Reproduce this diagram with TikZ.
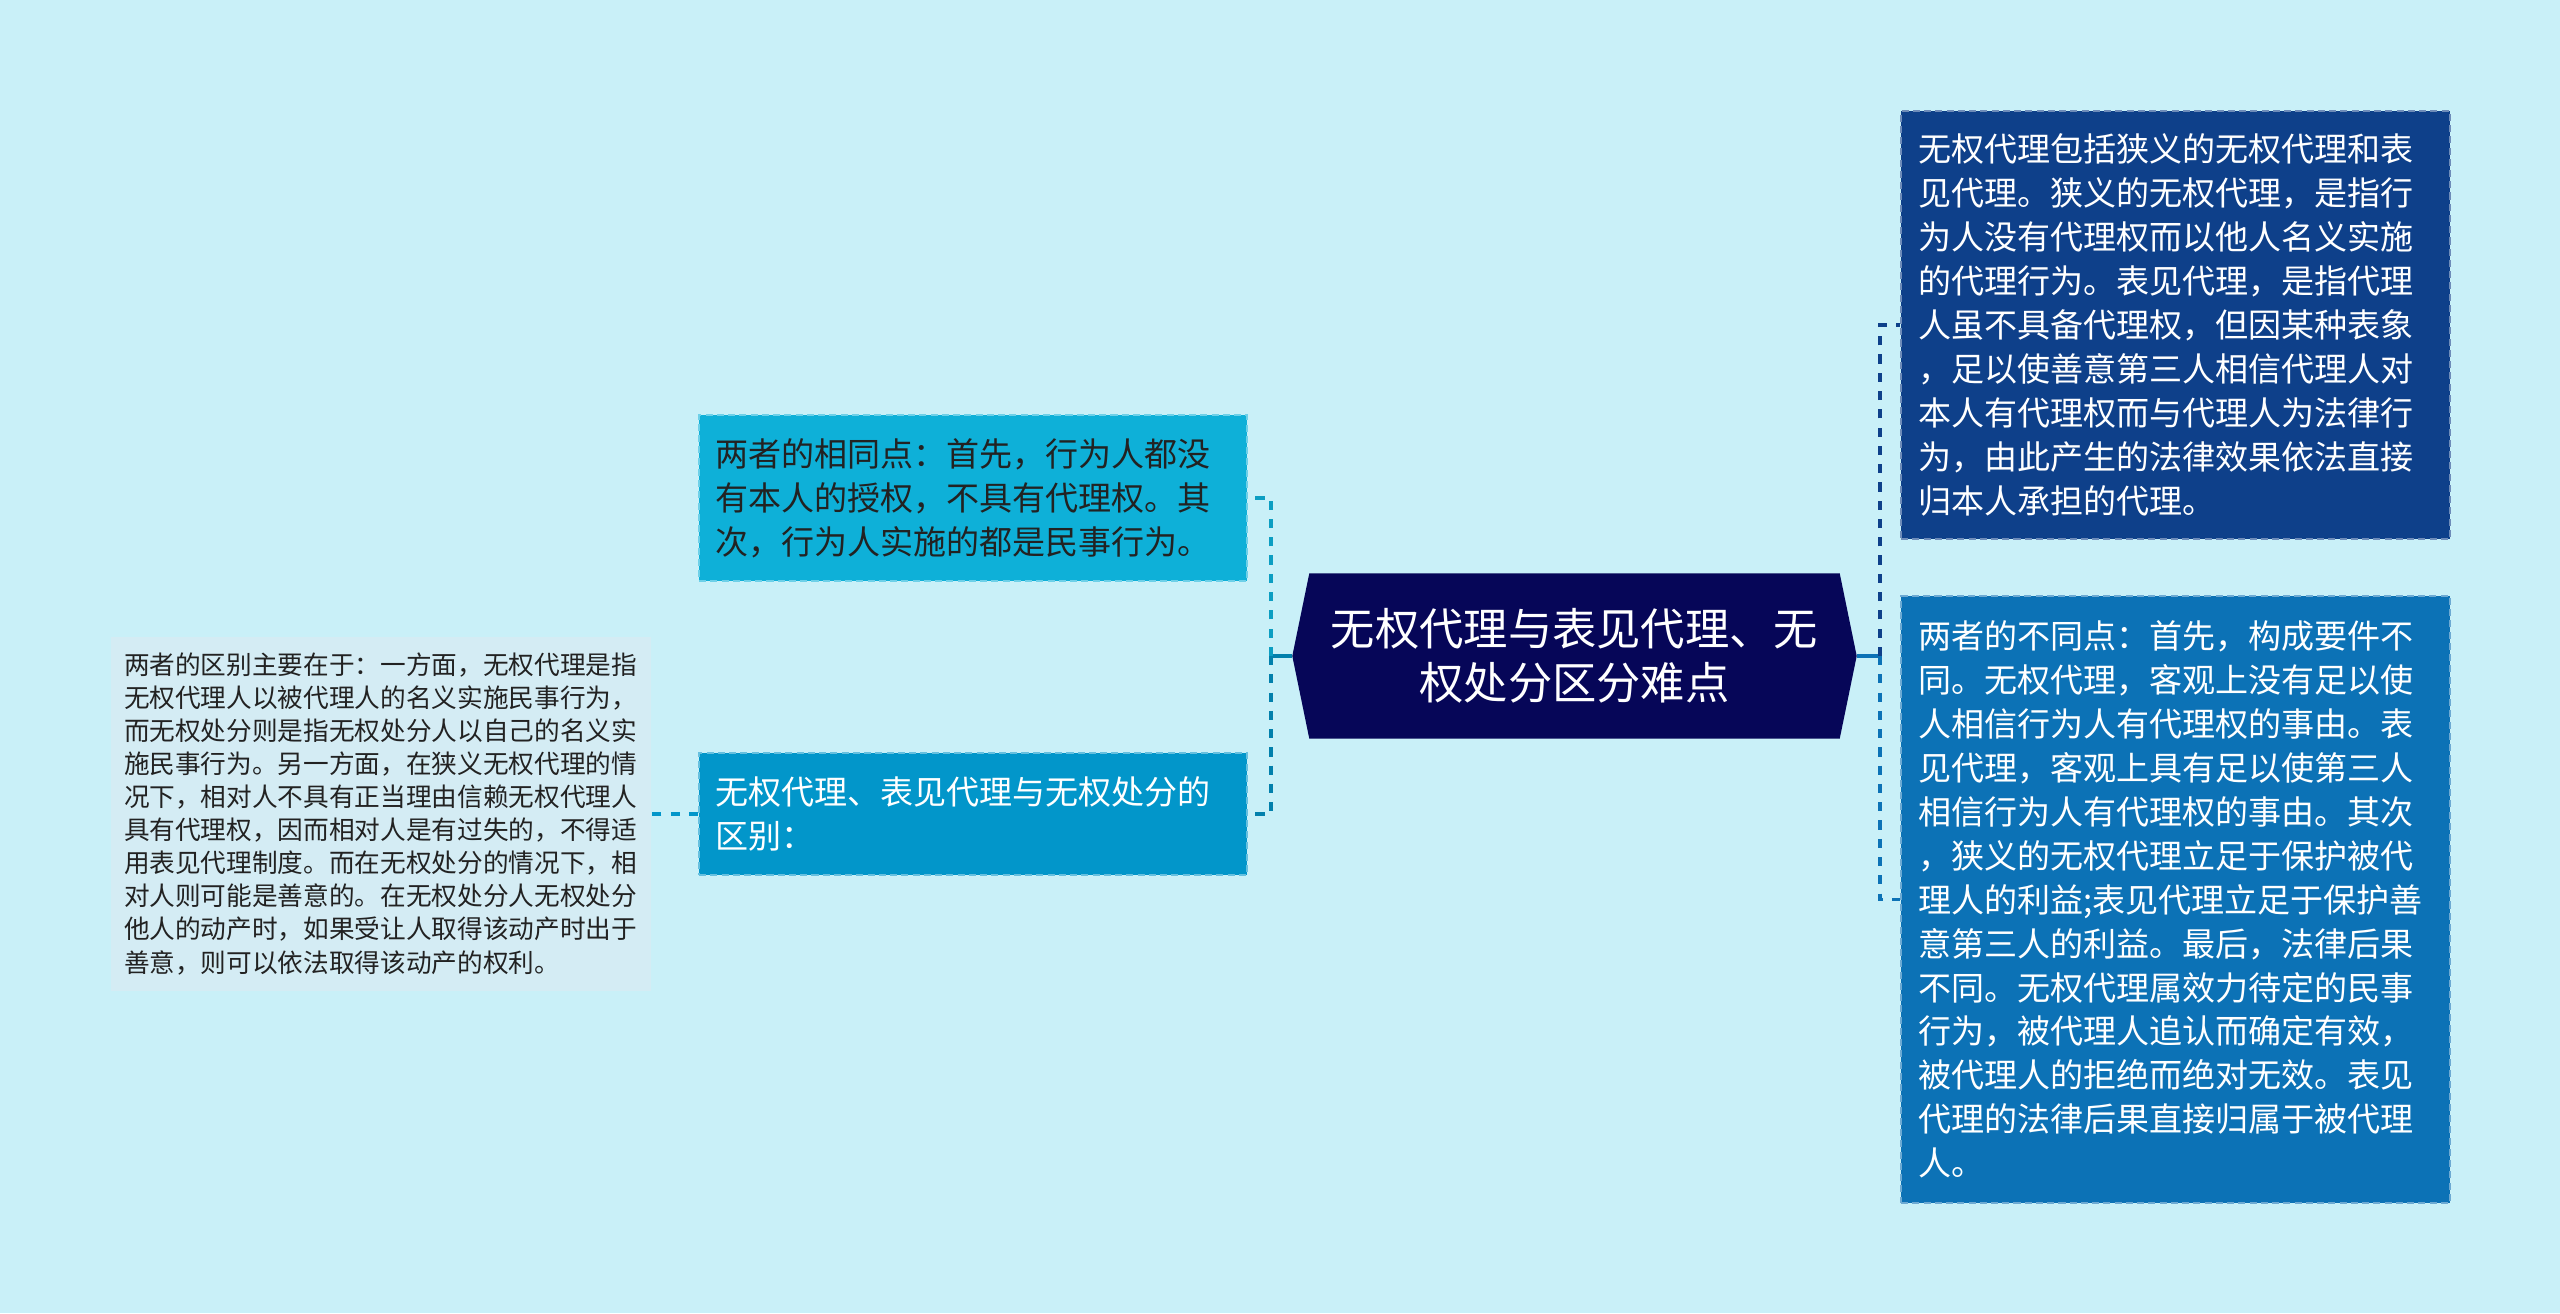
\documentclass[tikz,border=0pt]{standalone}
\usepackage{fontspec}
\setmainfont{Noto Sans CJK SC}
\usepackage{xcolor}
\usepackage{tikz}
\usetikzlibrary{backgrounds}
\definecolor{bgcyan}{RGB}{201,240,248}
\definecolor{hubnavy}{RGB}{6,6,88}
\definecolor{samecyan}{RGB}{14,176,216}
\definecolor{diffblue}{RGB}{2,150,202}
\definecolor{detailpale}{RGB}{212,236,244}
\definecolor{scopenavy}{RGB}{14,64,138}
\definecolor{contrastblue}{RGB}{12,114,182}
\definecolor{inkgray}{RGB}{34,34,34}

\begin{document}
\begin{tikzpicture}[y=-1cm,
    leaf/.style={rectangle, line width=0.6pt, dash pattern=on 2pt off 1.2pt, align=left, inner ysep=0pt, minimum width=5.48cm, font=\fontsize{9.4pt}{12.5pt}\selectfont},
    hub/.style={rectangle, minimum width=5.63cm, minimum height=1.64cm, align=center, text=white, font=\fontsize{12.6pt}{15.4pt}\selectfont},
    same/.style={leaf, fill=samecyan, draw=samecyan!60!white, text=inkgray, inner xsep=0.16cm, text width=5.16cm, minimum height=1.66cm},
    diff/.style={leaf, fill=diffblue, draw=diffblue!60!white, text=white, inner xsep=0.16cm, text width=5.16cm, minimum height=1.22cm},
    detail/.style={rectangle, fill=detailpale, align=left, inner xsep=0.13cm, inner ysep=0pt, text width=5.14cm, minimum height=3.54cm, text=inkgray, font=\fontsize{7.3pt}{9.39pt}\selectfont},
    scope/.style={leaf, fill=scopenavy, draw=scopenavy!60!white, text=white, inner xsep=0.17cm, text width=5.15cm, minimum width=5.49cm, minimum height=4.28cm},
    contrast/.style={leaf, fill=contrastblue, draw=contrastblue!60!white, text=white, inner xsep=0.17cm, text width=5.15cm, minimum width=5.49cm, minimum height=6.07cm},
    stub/.style={line width=1.1pt},
    link/.style={line width=1.1pt, dash pattern=on 2.6pt off 2.6pt}
]

\node[hub] (hub) at (15.745, 6.56) {无权代理与表见代理、无\\权处分区分难点};

\node[same] (same) at (9.73, 4.98) {两者的相同点：首先，行为人都没\\有本人的授权，不具有代理权。其\\次，行为人实施的都是民事行为。};
\node[diff] (diff) at (9.73, 8.14) {无权代理、表见代理与无权处分的\\区别：};
\node[detail] (detail) at (3.81, 8.14) {两者的区别主要在于：一方面，无权代理是指\\无权代理人以被代理人的名义实施民事行为，\\而无权处分则是指无权处分人以自己的名义实\\施民事行为。另一方面，在狭义无权代理的情\\况下，相对人不具有正当理由信赖无权代理人\\具有代理权，因而相对人是有过失的，不得适\\用表见代理制度。而在无权处分的情况下，相\\对人则可能是善意的。在无权处分人无权处分\\他人的动产时，如果受让人取得该动产时出于\\善意，则可以依法取得该动产的权利。};

\node[scope] (scope) at (21.755, 3.25) {无权代理包括狭义的无权代理和表\\见代理。狭义的无权代理，是指行\\为人没有代理权而以他人名义实施\\的代理行为。表见代理，是指代理\\人虽不具备代理权，但因某种表象\\，足以使善意第三人相信代理人对\\本人有代理权而与代理人为法律行\\为，由此产生的法律效果依法直接\\归本人承担的代理。};
\node[contrast] (contrast) at (21.755, 8.995) {两者的不同点：首先，构成要件不\\同。无权代理，客观上没有足以使\\人相信行为人有代理权的事由。表\\见代理，客观上具有足以使第三人\\相信行为人有代理权的事由。其次\\，狭义的无权代理立足于保护被代\\理人的利益;表见代理立足于保护善\\意第三人的利益。最后，法律后果\\不同。无权代理属效力待定的民事\\行为，被代理人追认而确定有效，\\被代理人的拒绝而绝对无效。表见\\代理的法律后果直接归属于被代理\\人。};

\coordinate (lfork) at (12.71, 6.56);
\coordinate (rfork) at (18.80, 6.56);

\draw[stub, diffblue!85!black] (hub.west) -- (lfork);
\draw[link, samecyan!90!black] (lfork) |- (same.east);
\draw[link, diffblue!85!black] (lfork) |- (diff.east);
\draw[link, diffblue] (diff.west) -- (detail.east);
\draw[stub, contrastblue] (hub.east) -- (rfork);
\draw[link, scopenavy] (rfork) |- (scope.west);
\draw[link, contrastblue] (rfork) |- (contrast.west);

\begin{scope}[on background layer]
\fill[bgcyan] (0,0) rectangle (25.6,13.13);
\fill[hubnavy] ([xshift=0.17cm]hub.north west) -- ([xshift=-0.17cm]hub.north east) -- (hub.east)
    -- ([xshift=-0.17cm]hub.south east) -- ([xshift=0.17cm]hub.south west) -- (hub.west) -- cycle;
\end{scope}
\useasboundingbox (0,0) rectangle (25.6,13.13);
\end{tikzpicture}
\end{document}
